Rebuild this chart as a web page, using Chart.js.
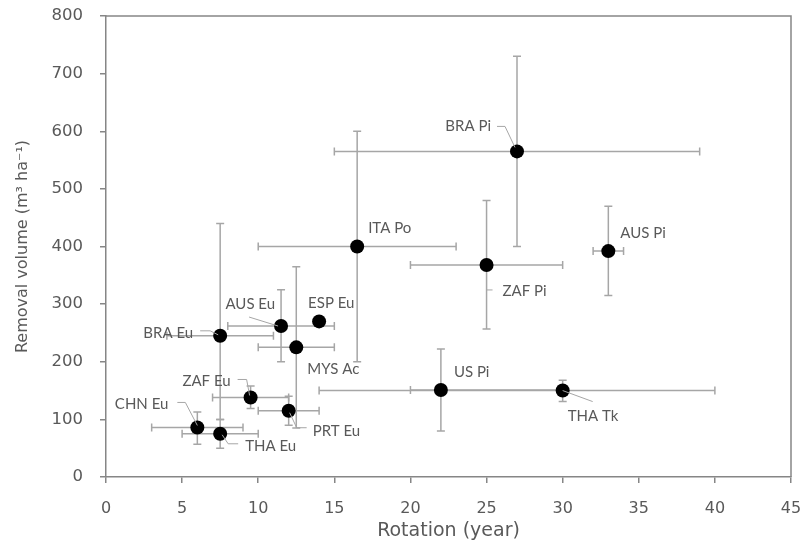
<!DOCTYPE html>
<html>
<head>
<meta charset="utf-8">
<script src="https://cdn.jsdelivr.net/npm/chart.js@4.4.0/dist/chart.umd.min.js"></script>
<style>
  html, body { margin: 0; padding: 0; background: #fff; }
  #wrap { width: 802px; height: 554px; }
</style>
</head>
<body>
<div id="wrap"><canvas id="chart"></canvas></div>
<script>
// plantation types
const names = ["BRA Pi", "ITA Po", "AUS Pi", "ZAF Pi", "AUS Eu", "ESP Eu", "BRA Eu", "MYS Ac", "ZAF Eu", "CHN Eu", "THA Eu", "PRT Eu", "US Pi", "THA Tk"];
// rotation (year) and removal volume (m3/ha)
const rotation = [27, 16.5, 33, 25, 11.5, 14, 7.5, 12.5, 9.5, 6, 7.5, 12, 22, 30];
const volume = [565, 400, 392, 368, 262, 270, 245, 225, 138, 86, 75, 115, 151, 150];
// error ranges
const rotLow = [15, 10, 32, 20, 8, null, 4, 10, 7, 3, 5, 10, 20, 14];
const rotHigh = [39, 23, 34, 30, 15, null, 11, 15, 12, 9, 10, 14, 30, 40];
const volLow = [400, 200, 315, 257, 200, null, 100, 85, 119, 57, 50, 90, 80, 131];
const volHigh = [730, 600, 470, 480, 325, null, 440, 365, 158, 113, 100, 140, 222, 168];

const xTicks = [0, 5, 10, 15, 20, 25, 30, 35, 40, 45];
const yTicks = [0, 100, 200, 300, 400, 500, 600, 700, 800];

// label placement, pixel offsets from the dot
const labelPos = [
    { dx: -26, dy: -25, align: "right", leader: [[-20, -25], [-12, -25], [-2, -4]] },
    { dx: 11, dy: -18, align: "left" },
    { dx: 12, dy: -18, align: "left" },
    { dx: 16, dy: 26, align: "left", leader: [[0, 8], [0, 25], [6, 25]] },
    { dx: -6, dy: -22, align: "right", leader: [[-32, -9], [-3, 0]] },
    { dx: -11, dy: -18, align: "left" },
    { dx: -27, dy: -3, align: "right", leader: [[-20, -5], [-10, -5], [-2, -1]] },
    { dx: 11, dy: 22, align: "left" },
    { dx: -20, dy: -16, align: "right", leader: [[-13, -18], [-4, -18], [-1, -2]] },
    { dx: -29, dy: -23, align: "right", leader: [[-20, -25], [-12, -25], [0, -2]] },
    { dx: 25, dy: 12, align: "left", leader: [[2, 1], [8, 10], [18, 10]] },
    { dx: 24, dy: 20, align: "left", leader: [[1, 2], [8, 17], [18, 17]] },
    { dx: 13, dy: -18, align: "left" },
    { dx: 5, dy: 26, align: "left", leader: [[0, 0], [30, 11]] },
];

const axisGray = "#868686";
const barGray = "#a6a6a6";
const textGray = "#595959";
const labelFont = "Lato, 'Open Sans', sans-serif";
const axisFont = "'DejaVu Sans', sans-serif";

const errorBars = {
    id: "errorBars",
    beforeDatasetsDraw(chart) {
        const { ctx, scales: { x, y } } = chart;
        const cap = 4;
        ctx.save();
        ctx.strokeStyle = barGray;
        ctx.lineWidth = 1.5;
        for (let i = 0; i < rotation.length; i++) {
            const px = x.getPixelForValue(rotation[i]);
            const py = y.getPixelForValue(volume[i]);
            ctx.beginPath();
            if (rotLow[i] != null) {
                const x0 = x.getPixelForValue(rotLow[i]);
                const x1 = x.getPixelForValue(rotHigh[i]);
                ctx.moveTo(x0, py); ctx.lineTo(x1, py);
                ctx.moveTo(x0, py - cap); ctx.lineTo(x0, py + cap);
                ctx.moveTo(x1, py - cap); ctx.lineTo(x1, py + cap);
            }
            if (volLow[i] != null) {
                const y0 = y.getPixelForValue(volLow[i]);
                const y1 = y.getPixelForValue(volHigh[i]);
                ctx.moveTo(px, y0); ctx.lineTo(px, y1);
                ctx.moveTo(px - cap, y0); ctx.lineTo(px + cap, y0);
                ctx.moveTo(px - cap, y1); ctx.lineTo(px + cap, y1);
            }
            ctx.stroke();
        }
        ctx.restore();
    },
};

const frame = {
    id: "frame",
    beforeDraw(chart) {
        const { ctx, chartArea: a } = chart;
        ctx.save();
        ctx.strokeStyle = axisGray;
        ctx.lineWidth = 1.5;
        ctx.beginPath();
        ctx.moveTo(a.left, a.top);
        ctx.lineTo(a.right, a.top);
        ctx.lineTo(a.right, a.bottom);
        ctx.stroke();
        ctx.restore();
    },
};

const pointLabels = {
    id: "pointLabels",
    afterDatasetsDraw(chart) {
        const { ctx, scales: { x, y } } = chart;
        ctx.save();
        ctx.font = `15px ${labelFont}`;
        ctx.fillStyle = textGray;
        ctx.textBaseline = "middle";
        ctx.strokeStyle = barGray;
        ctx.lineWidth = 1;
        names.forEach((name, i) => {
            const px = x.getPixelForValue(rotation[i]);
            const py = y.getPixelForValue(volume[i]);
            const p = labelPos[i];
            if (p.leader) {
                ctx.beginPath();
                p.leader.forEach(([dx, dy], k) => {
                    if (k === 0) ctx.moveTo(px + dx, py + dy);
                    else ctx.lineTo(px + dx, py + dy);
                });
                ctx.stroke();
            }
            ctx.textAlign = p.align;
            ctx.fillText(name, px + p.dx, py + p.dy);
        });
        ctx.restore();
    },
};

new Chart(document.getElementById("chart"), {
    type: "scatter",
    data: {
        datasets: [{
            data: rotation.map((v, i) => ({ x: v, y: volume[i] })),
            backgroundColor: "#000",
            borderWidth: 0,
            pointRadius: 7,
            pointHoverRadius: 7,
        }],
    },
    options: {
        responsive: true,
        maintainAspectRatio: false,
        animation: false,
        layout: { padding: { top: 16, right: 11, left: 0, bottom: 0 } },
        plugins: {
            legend: { display: false },
            tooltip: { enabled: false },
        },
        scales: {
            x: {
                type: "linear",
                min: 0,
                max: 45,
                afterBuildTicks: (s) => { s.ticks = xTicks.map((v) => ({ value: v })); },
                afterFit: (s) => { s.height = 77; s.paddingLeft = 0; s.paddingRight = 0; },
                ticks: { color: textGray, font: { family: axisFont, size: 16 }, padding: 16 },
                grid: { display: true, drawOnChartArea: false, drawTicks: true, tickLength: 6, color: axisGray, lineWidth: 1.5 },
                border: { display: true, color: axisGray, width: 1.5 },
                title: { display: true, text: "Rotation (year)", color: textGray, font: { family: axisFont, size: 19 }, padding: { top: 0, bottom: 12 } },
            },
            y: {
                type: "linear",
                min: 0,
                max: 800,
                afterBuildTicks: (s) => { s.ticks = yTicks.map((v) => ({ value: v })); },
                afterFit: (s) => { s.width = 106; s.paddingTop = 0; s.paddingBottom = 0; },
                ticks: { color: textGray, font: { family: axisFont, size: 16.5 }, padding: 17 },
                grid: { display: true, drawOnChartArea: false, drawTicks: true, tickLength: 6, color: axisGray, lineWidth: 1.5 },
                border: { display: true, color: axisGray, width: 1.5 },
                title: { display: true, text: "Removal volume (m³ ha⁻¹)", color: textGray, font: { family: axisFont, size: 16 }, padding: { top: 13, bottom: 13 } },
            },
        },
    },
    plugins: [frame, errorBars, pointLabels],
});
</script>
</body>
</html>
